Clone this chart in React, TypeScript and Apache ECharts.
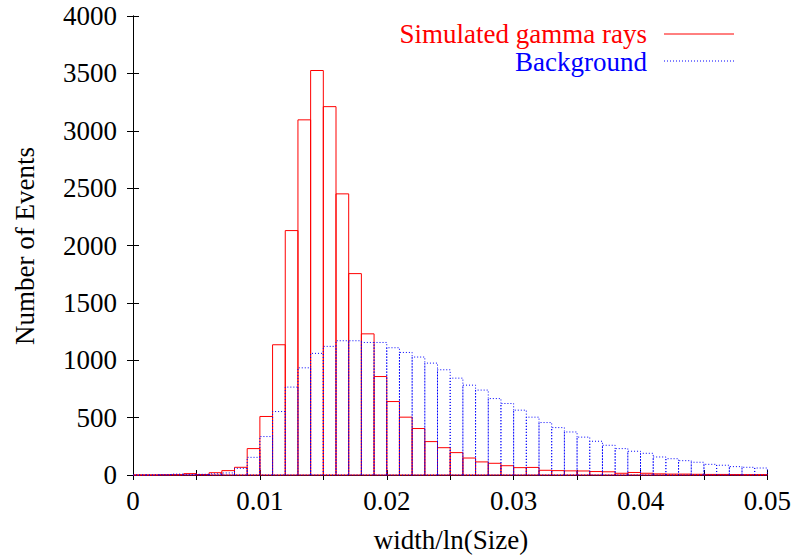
import React, { useEffect, useRef } from "react";
import * as echarts from "echarts";

const BIN_WIDTH = 0.001;
const binStarts = [
  0.0, 0.001, 0.002, 0.003, 0.004, 0.005, 0.006, 0.007, 0.008, 0.009,
  0.010, 0.011, 0.012, 0.013, 0.014, 0.015, 0.016, 0.017, 0.018, 0.019,
  0.020, 0.021, 0.022, 0.023, 0.024, 0.025, 0.026, 0.027, 0.028, 0.029,
  0.030, 0.031, 0.032, 0.033, 0.034, 0.035, 0.036, 0.037, 0.038, 0.039,
  0.040, 0.041, 0.042, 0.043, 0.044, 0.045, 0.046, 0.047, 0.048, 0.049,
];
const gammaCounts = [
  0, 0, 2, 3, 12, 4, 20, 38, 67, 230,
  510, 1135, 2130, 3095, 3525, 3210, 2450, 1755, 1230, 858,
  640, 504, 405, 291, 238, 195, 148, 114, 102, 81,
  64, 66, 41, 38, 36, 35, 30, 28, 15, 22,
  15, 10, 8, 8, 6, 5, 5, 4, 3, 3,
];
const backgroundCounts = [
  0, 0, 2, 8, 5, 6, 10, 18, 58, 154,
  335, 553, 766, 934, 1060, 1121, 1170, 1170, 1155, 1155,
  1109, 1068, 1028, 975, 917, 844, 783, 740, 666, 623,
  565, 504, 457, 413, 375, 330, 294, 259, 230, 207,
  189, 157, 142, 125, 111, 93, 85, 73, 67, 61,
];
const seriesNames = ["Simulated gamma rays", "Background"];
const xTitle = "width/ln(Size)";
const yTitle = "Number of Events";

const FONT = "'Liberation Serif', 'Times New Roman', serif";
const FS = 27;

function makeSeries(name: string, counts: number[], color: string, dash: number[] | null) {
  return {
    type: "custom",
    name,
    xAxisIndex: 0,
    yAxisIndex: 0,
    encode: { x: [0, 1], y: 2 },
    data: counts.map((v, i) => [binStarts[i], binStarts[i] + BIN_WIDTH, v]),
    renderItem: (params: any, api: any) => {
      const x0 = api.value(0);
      const x1 = api.value(1);
      const v = api.value(2);
      const p0 = api.coord([x0, 0]);
      const p1 = api.coord([x1, v]);
      return {
        type: "polygon",
        shape: {
          points: [
            [p0[0], p0[1]],
            [p0[0], p1[1]],
            [p1[0], p1[1]],
            [p1[0], p0[1]],
          ],
        },
        style: {
          fill: "none",
          stroke: color,
          lineWidth: 1,
          lineDash: dash || undefined,
        },
      };
    },
  };
}

export default function App() {
  const ref = useRef<HTMLDivElement>(null);
  useEffect(() => {
    document.body.style.margin = "0";
    if (!ref.current) return;
    const chart = echarts.init(ref.current, null, { renderer: "svg" });
    const axisCommon = {
      type: "value",
      axisLine: { show: true, lineStyle: { color: "#000", width: 1 } },
      splitLine: { show: false },
    };
    chart.setOption({
      animation: false,
      backgroundColor: "#fff",
      grid: { left: 133, right: 26, top: 16, bottom: 83, containLabel: false },
      xAxis: [
        {
          ...axisCommon,
          position: "bottom",
          min: 0,
          max: 0.05,
          interval: 0.005,
          axisTick: { show: true, inside: true, length: 5, lineStyle: { color: "#000" } },
          axisLabel: {
            show: true,
            margin: 12,
            color: "#000",
            fontFamily: FONT,
            fontSize: FS,
            formatter: (val: number) => {
              const k = val / 0.01;
              if (Math.abs(k - Math.round(k)) > 1e-6) return "";
              return val === 0 ? "0" : val.toFixed(2);
            },
          },
        },
        {
          ...axisCommon,
          position: "top",
          min: 0,
          max: 0.05,
          interval: 0.005,
          axisTick: { show: true, inside: true, length: 5, lineStyle: { color: "#000" } },
          axisLabel: { show: false },
        },
      ],
      yAxis: [
        {
          ...axisCommon,
          position: "left",
          min: 0,
          max: 4000,
          interval: 500,
          axisTick: { show: true, inside: true, length: 6, lineStyle: { color: "#000" } },
          axisLabel: {
            show: true,
            margin: 16,
            color: "#000",
            fontFamily: FONT,
            fontSize: FS,
            formatter: (val: number) => String(val),
          },
        },
        {
          ...axisCommon,
          position: "right",
          min: 0,
          max: 4000,
          interval: 500,
          axisTick: { show: true, inside: true, length: 6, lineStyle: { color: "#000" } },
          axisLabel: { show: false },
        },
      ],
      series: [
        makeSeries(seriesNames[0], gammaCounts, "#ff0000", null),
        makeSeries(seriesNames[1], backgroundCounts, "#0000ff", [1, 2]),
      ],
      graphic: [
        {
          type: "text",
          x: 647,
          y: 34,
          style: {
            text: seriesNames[0],
            fill: "#ff0000",
            font: `${FS}px ${FONT}`,
            lineHeight: 24,
            align: "right",
            verticalAlign: "middle",
          },
        },
        {
          type: "line",
          shape: { x1: 664, y1: 34, x2: 734, y2: 34 },
          style: { stroke: "#ff0000", lineWidth: 1 },
        },
        {
          type: "text",
          x: 647,
          y: 62,
          style: {
            text: seriesNames[1],
            fill: "#0000ff",
            font: `${FS}px ${FONT}`,
            lineHeight: 24,
            align: "right",
            verticalAlign: "middle",
          },
        },
        {
          type: "line",
          shape: { x1: 664, y1: 61, x2: 734, y2: 61 },
          style: { stroke: "#0000ff", lineWidth: 1, lineDash: [1, 2] },
        },
        {
          type: "text",
          x: 451,
          y: 540,
          style: {
            text: xTitle,
            fill: "#000",
            font: `${FS}px ${FONT}`,
            align: "center",
            verticalAlign: "middle",
          },
        },
        {
          type: "text",
          x: 25,
          y: 246,
          rotation: Math.PI / 2,
          style: {
            text: yTitle,
            fill: "#000",
            font: `${FS}px ${FONT}`,
            align: "center",
            verticalAlign: "middle",
          },
        },
      ],
    });
    return () => chart.dispose();
  }, []);
  return <div ref={ref} style={{ width: 794, height: 558 }} />;
}
